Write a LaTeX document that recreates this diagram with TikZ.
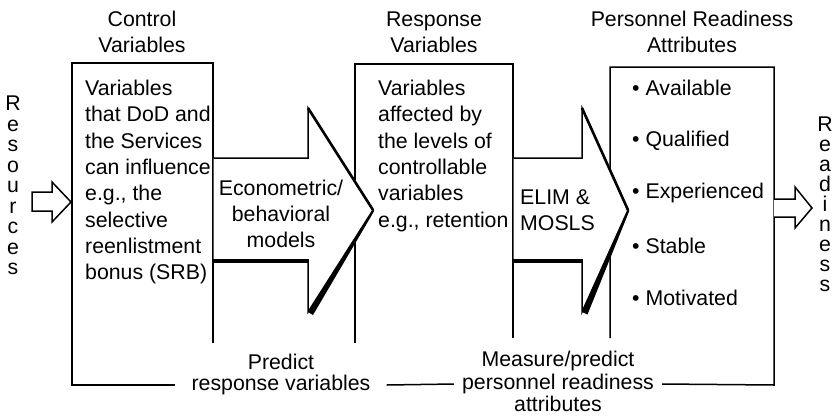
\documentclass[tikz,border=0pt]{standalone}
\usepackage{fontspec}
\setmainfont{Liberation Sans}
\usetikzlibrary{calc}

\begin{document}
\begin{tikzpicture}[x=1pt,y=-1pt,
		frame/.style={line width=1.5pt},
		lbl/.style={font=\fontsize{21.3}{26.3}\selectfont,inner sep=0pt},
		boxtext/.style={lbl,anchor=north west,align=left},
		heading/.style={lbl,align=center}]
		\useasboundingbox (0,0) rectangle (838,416);
		\coordinate (tipA) at (373,210);
		\coordinate (tipB) at (628,210);
		\coordinate (inTip) at (71,202);
		\coordinate (outTip) at (812,208);
		\coordinate (c1sw) at (72,385);
		\coordinate (c3se) at (774,385);
		\node[heading] (ctrlhead) at (142,32) {Control\\Variables};
		\node[heading] (resphead) at (434,32) {Response\\Variables};
		\node[heading] (attrhead) at (692,32) {Personnel Readiness\\Attributes};
		\node[boxtext] (ctrltext) at (85,80) {Variables\\that DoD and\\the Services\\can influence\\e.g., the\\selective\\reenlistment\\bonus (SRB)};
		\node[boxtext] (resptext) at (378,80) {Variables\\affected by\\the levels of\\controllable\\variables\\e.g., retention};
		\foreach \txt [count=\i] in {Available,Qualified,Experienced,Stable,Motivated}
			\node[lbl,anchor=west] (attr\i) at (632,35.5+52.5*\i) {\textbullet\ \txt};
		\foreach \ch [count=\i] in {R,e,s,o,u,r,c,e,s}
			\node[lbl,anchor=base] (res\i) at (13,90+20.5*\i) {\ch};
		\foreach \ch [count=\i] in {R,e,a,d,i,n,e,s,s}
			\node[lbl,anchor=base] (rdy\i) at (825,111+20*\i) {\ch};
		\node[lbl] (predtop) at (281,362) {Predict};
		\node[lbl,inner xsep=16pt] (predbot) at (281,385) {response variables};
		\node[lbl] (meastop) at (558,361) {Measure/predict};
		\node[lbl,inner xsep=8pt] (measmid) at (558,384) {personnel readiness};
		\node[lbl] (measbot) at (558,404) {attributes};
		\draw[frame] (213,343) -- (213,63) -- (72,63) -- (c1sw) -- (predbot.west);
		\draw[frame] (355,343) -- (355,64) -- (513,64) -- (513,338);
		\draw[frame] (measmid.east) -- (c3se) -- (774,67) -- (610,67) -- (610,338);
		\draw[frame] (predbot.east) -- (measmid.west);
		\filldraw[frame,fill=white] (213.7,158) -- (308,158) -- (308,108) -- (tipA) -- (308,312) -- (308,260) -- (213.7,260);
		\draw[line width=2.6pt] (308,108) -- (tipA);
		\draw[line width=4.5pt] (213,261) -- (309,261);
		\fill (308,312) -- (tipA) -- ($(tipA)+(1.3,0.8)$) -- (313,315) -- cycle;
		\filldraw[frame,fill=white] (513.7,158) -- (582,158) -- (582,108) -- (tipB) -- (582,312) -- (582,260) -- (513.7,260);
		\draw[line width=2.6pt] (582,108) -- (tipB);
		\draw[line width=4.5pt] (513,261) -- (583,261);
		\fill (582,312) -- (tipB) -- ($(tipB)+(1.4,0.6)$) -- (587.5,314.5) -- cycle;
		\draw[frame,fill=white] (32,192) -- (52,192) -- (52,182) -- (inTip) -- (52,222) -- (52,211) -- (32,211) -- cycle;
		\draw[frame,fill=white] (774,199) -- (795,199) -- (795,187) -- (outTip) -- (795,228) -- (795,217) -- (774,217);
		\node[heading] (modlbl) at (281,214) {Econometric/\\behavioral\\models};
		\node[lbl,anchor=west,align=left] (elimlbl) at (520,210) {ELIM \&\\MOSLS};
	\end{tikzpicture}
\end{document}
